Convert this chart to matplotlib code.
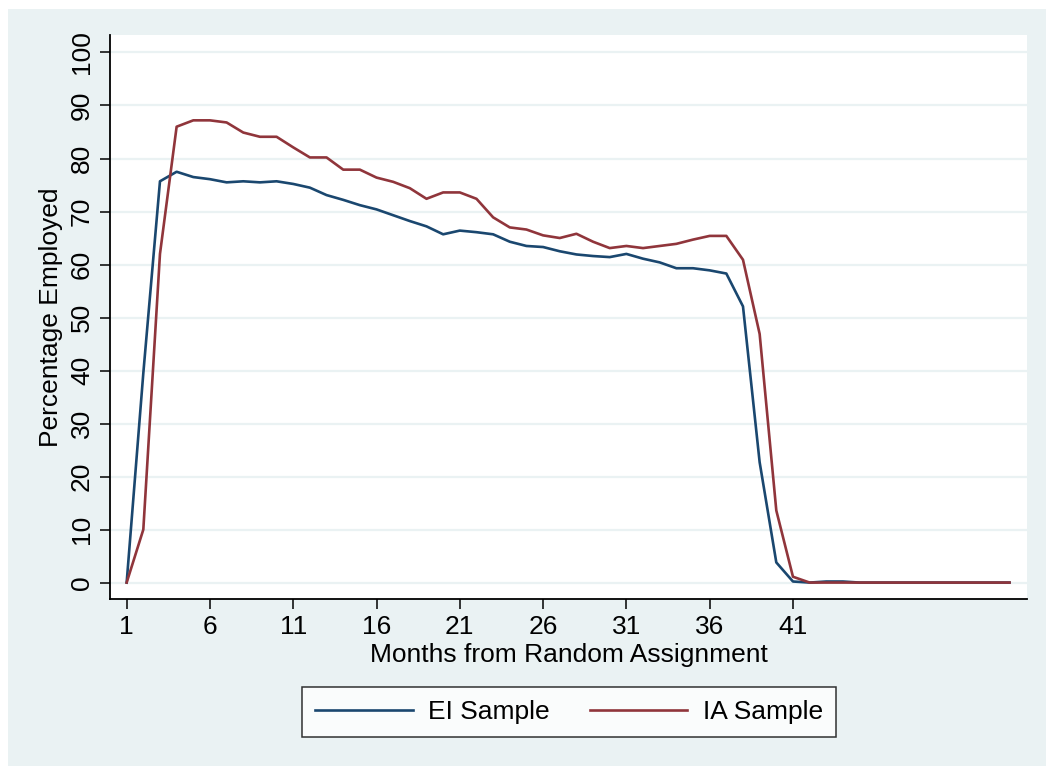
import matplotlib
matplotlib.use("Agg")
import matplotlib.pyplot as plt
from matplotlib.patches import Rectangle
import numpy as np

# ── Data ──────────────────────────────────────────────────────────────────────
months = np.arange(1, 55)

ei_sample = [0.0, 39.5, 75.7, 77.5, 76.5, 76.1, 75.5, 75.7, 75.5, 75.7,
             75.2, 74.5, 73.1, 72.2, 71.2, 70.4, 69.3, 68.2, 67.2, 65.7,
             66.4, 66.1, 65.7, 64.3, 63.5, 63.3, 62.5, 61.9, 61.6, 61.4,
             62.0, 61.1, 60.4, 59.3, 59.3, 58.9, 58.3, 52.1, 22.7, 3.8,
             0.2, 0.0, 0.2, 0.2, 0.0, 0.0, 0.0, 0.0, 0.0, 0.0,
             0.0, 0.0, 0.0, 0.0]

ia_sample = [0.0, 10.0, 62.0, 86.0, 87.2, 87.2, 86.8, 84.9, 84.1, 84.1,
             82.1, 80.2, 80.2, 77.9, 77.9, 76.4, 75.6, 74.4, 72.4, 73.6,
             73.6, 72.4, 68.9, 67.0, 66.6, 65.5, 65.0, 65.8, 64.3, 63.1,
             63.5, 63.1, 63.5, 63.9, 64.7, 65.4, 65.4, 60.9, 46.9, 13.6,
             1.1, 0.0, 0.0, 0.0, 0.0, 0.0, 0.0, 0.0, 0.0, 0.0,
             0.0, 0.0, 0.0, 0.0]

x_ticks = [1, 6, 11, 16, 21, 26, 31, 36, 41]
y_ticks = [0, 10, 20, 30, 40, 50, 60, 70, 80, 90, 100]

labels = ["EI Sample", "IA Sample"]
colors = ["#1a476f", "#90353b"]
bg = "#eaf2f3"

plt.rcParams["font.family"] = ["Liberation Sans", "DejaVu Sans"]
fs = 19

# ── Figure ────────────────────────────────────────────────────────────────────
W, H = 1046, 766
fig = plt.figure(figsize=(W / 100, H / 100), dpi=100)
fig.patch.set_facecolor("white")
fig.patches.append(Rectangle((8 / W, 0), 1, 1 - 9 / H, transform=fig.transFigure,
                             facecolor=bg, edgecolor="none", zorder=-10))

ax = fig.add_axes([110 / W, 1 - 599 / H, (1027 - 110) / W, (599 - 35) / H])
ax.set_facecolor("white")

for y in y_ticks:
    ax.axhline(y, color=bg, linewidth=1.6, zorder=1)

ax.plot(months, ei_sample, color=colors[0], linewidth=1.9, label=labels[0], zorder=3)
ax.plot(months, ia_sample, color=colors[1], linewidth=1.9, label=labels[1], zorder=3)

ax.set_xlim(0, 55.05)
ax.set_ylim(-3.1, 103.3)
ax.set_xticks(x_ticks)
ax.set_yticks(y_ticks)
ax.set_yticklabels([str(v) for v in y_ticks], rotation=90, va="center")

for side in ["top", "right"]:
    ax.spines[side].set_visible(False)
for side in ["left", "bottom"]:
    ax.spines[side].set_color("black")
    ax.spines[side].set_linewidth(1.3)

ax.tick_params(axis="both", direction="out", length=7.5, width=1.1,
               colors="black", labelsize=fs)
ax.tick_params(axis="x", pad=4)
ax.tick_params(axis="y", pad=4)

ax.set_xlabel("Months from Random Assignment", fontsize=fs, labelpad=3)
ax.set_ylabel("Percentage Employed", fontsize=fs, labelpad=5)

# ── Legend ────────────────────────────────────────────────────────────────────
leg = fig.legend(loc="center", bbox_to_anchor=(569 / W, 1 - 712 / H), ncol=2,
                 fontsize=fs, frameon=True, fancybox=False, handlelength=3.7,
                 handletextpad=0.6, columnspacing=1.5, borderpad=0.5,
                 borderaxespad=0)
leg.get_frame().set_edgecolor("black")
leg.get_frame().set_linewidth(1.1)
leg.get_frame().set_facecolor("white")

fig.savefig("out.png", dpi=100)
